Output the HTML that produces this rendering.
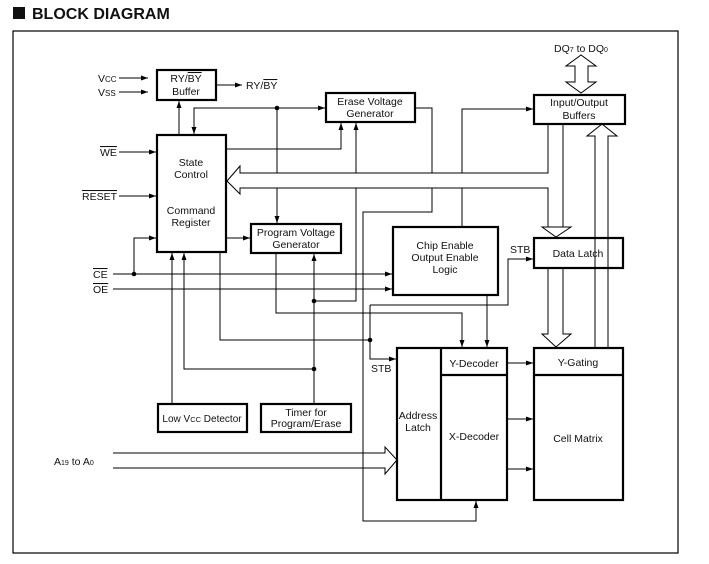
<!DOCTYPE html>
<html><head><meta charset="utf-8"><style>
html,body{margin:0;padding:0;background:#fff;}
svg{display:block;}
text{font-family:"Liberation Sans",Arial,sans-serif;font-size:10.5px;fill:#111;}
</style></head><body>
<svg width="709" height="564" viewBox="0 0 709 564" xmlns="http://www.w3.org/2000/svg">
<defs>
<marker id="a" markerWidth="8" markerHeight="6" refX="7" refY="3" orient="auto" markerUnits="userSpaceOnUse">
<path d="M0,0.5 L7,3 L0,5.5 z" fill="#000"/></marker>
</defs>
<rect x="13" y="7" width="12" height="12" fill="#111"/>
<text x="32" y="19" style="font-size:16px;font-weight:bold">BLOCK DIAGRAM</text>
<rect x="13" y="31" width="665" height="522" fill="none" stroke="#000" stroke-width="1.2"/>

<g fill="none" stroke="#000" stroke-width="2.2">
<rect x="157" y="70" width="59" height="30"/>
<rect x="326" y="93" width="89" height="29"/>
<rect x="157" y="135" width="69" height="117"/>
<rect x="251" y="224" width="90" height="29"/>
<rect x="534" y="95" width="91" height="29"/>
<rect x="393" y="227" width="105" height="68"/>
<rect x="534" y="238" width="89" height="30"/>
<rect x="158" y="404" width="89" height="28"/>
<rect x="261" y="404" width="90" height="28"/>
<rect x="397" y="348" width="110" height="152"/>
<line x1="441" y1="348" x2="441" y2="500"/>
<line x1="441" y1="375" x2="507" y2="375"/>
<rect x="534" y="348" width="89" height="152"/>
<line x1="534" y1="375" x2="623" y2="375"/>
</g>

<g fill="none" stroke="#000" stroke-width="1">
<line x1="119" y1="78" x2="148" y2="78" marker-end="url(#a)"/>
<line x1="119" y1="92" x2="148" y2="92" marker-end="url(#a)"/>
<line x1="216" y1="85" x2="242" y2="85" marker-end="url(#a)"/>
<line x1="179" y1="135" x2="179" y2="101" marker-end="url(#a)"/>
<polyline points="194,135 194,108 325,108" />
<line x1="194" y1="110" x2="194" y2="134" marker-end="url(#a)"/>
<line x1="300" y1="108" x2="325" y2="108" marker-end="url(#a)"/>
<line x1="119" y1="152" x2="156" y2="152" marker-end="url(#a)"/>
<line x1="119" y1="196" x2="156" y2="196" marker-end="url(#a)"/>
<line x1="113" y1="274" x2="392" y2="274" marker-end="url(#a)"/>
<line x1="113" y1="289" x2="392" y2="289" marker-end="url(#a)"/>
<polyline points="134,274 134,238 156,238" marker-end="url(#a)"/>
<line x1="226" y1="238" x2="250" y2="238" marker-end="url(#a)"/>
<polyline points="226,149 341,149 341,123" marker-end="url(#a)"/>
<line x1="277" y1="108" x2="277" y2="173"/>
<line x1="277" y1="188" x2="277" y2="223" marker-end="url(#a)"/>
<line x1="356" y1="173" x2="356" y2="123" marker-end="url(#a)"/>
<polyline points="356,188 356,301 314,301"/>
<polyline points="415,108 432,108 432,173"/>
<polyline points="432,188 432,212 363,212 363,521 476,521 476,501" marker-end="url(#a)"/>
<polyline points="462,173 462,109 533,109" marker-end="url(#a)"/>
<line x1="462" y1="188" x2="462" y2="227"/>
<polyline points="548,124 548,173 240,173 240,166 227,181 240,194 240,188 548,188 548,227"/>
<line x1="563" y1="124" x2="563" y2="227"/>
<polygon points="542,227 571,227 556,237" />
<polygon points="575,66 566,66 581,55 596,66 588,66 588,82 596,82 581,93 566,82 575,82"/>
<polyline points="595,347 595,136 587,136 602,124 617,136 608,136 608,347"/>
<polyline points="548,268 548,334 542,334 556,347 571,334 563,334 563,268"/>
<line x1="172" y1="404" x2="172" y2="253" marker-end="url(#a)"/>
<polyline points="314,369 184,369 184,253" marker-end="url(#a)"/>
<polyline points="220,252 220,340 370,340"/>
<polyline points="276,253 276,313 462,313 462,347" marker-end="url(#a)"/>
<line x1="314" y1="404" x2="314" y2="254" marker-end="url(#a)"/>
<polyline points="370,305 370,359 396,359" marker-end="url(#a)"/>
<polyline points="370,305 508,305 508,259 533,259" marker-end="url(#a)"/>
<line x1="487" y1="295" x2="487" y2="347" marker-end="url(#a)"/>
<line x1="507" y1="363" x2="533" y2="363" marker-end="url(#a)"/>
<line x1="507" y1="419" x2="533" y2="419" marker-end="url(#a)"/>
<line x1="507" y1="469" x2="533" y2="469" marker-end="url(#a)"/>
<polyline points="113,453 385,453 385,447 397,460 385,474 385,468 113,468"/>
</g>
<g fill="#000">
<circle cx="277" cy="108" r="2.3"/><circle cx="134" cy="274" r="2.3"/>
<circle cx="314" cy="301" r="2.3"/><circle cx="314" cy="369" r="2.3"/>
<circle cx="370" cy="340" r="2.3"/>
</g>

<g text-anchor="middle">
<text x="186" y="82">RY/<tspan text-decoration="overline">BY</tspan></text>
<text x="186" y="95">Buffer</text>
<text x="370" y="105">Erase Voltage</text>
<text x="370" y="117">Generator</text>
<text x="191" y="166">State</text>
<text x="191" y="178">Control</text>
<text x="191" y="214">Command</text>
<text x="191" y="226">Register</text>
<text x="296" y="236">Program Voltage</text>
<text x="296" y="248">Generator</text>
<text x="579" y="106">Input/Output</text>
<text x="579" y="119">Buffers</text>
<text x="581" y="52">DQ<tspan font-size="7">7</tspan> to DQ<tspan font-size="7">0</tspan></text>
<text x="445" y="249">Chip Enable</text>
<text x="445" y="261">Output Enable</text>
<text x="445" y="273">Logic</text>
<text x="578" y="257">Data Latch</text>
<text x="202" y="422" style="font-size:10px">Low V<tspan font-size="7.5">CC</tspan> Detector</text>
<text x="306" y="416">Timer for</text>
<text x="306" y="427">Program/Erase</text>
<text x="418" y="419">Address</text>
<text x="418" y="431">Latch</text>
<text x="474" y="367">Y-Decoder</text>
<text x="474" y="440">X-Decoder</text>
<text x="578" y="366">Y-Gating</text>
<text x="578" y="442">Cell Matrix</text>
</g>
<text x="98" y="82">V<tspan font-size="8">CC</tspan></text>
<text x="98" y="96">V<tspan font-size="8">SS</tspan></text>
<text x="246" y="89">RY/<tspan text-decoration="overline">BY</tspan></text>
<text x="100" y="156" text-decoration="overline">WE</text>
<text x="82" y="200" text-decoration="overline">RESET</text>
<text x="93" y="278" text-decoration="overline">CE</text>
<text x="93" y="293" text-decoration="overline">OE</text>
<text x="510" y="253">STB</text>
<text x="371" y="372">STB</text>
<text x="54" y="465">A<tspan font-size="7">19</tspan> to A<tspan font-size="7">0</tspan></text>
</svg>
</body></html>
